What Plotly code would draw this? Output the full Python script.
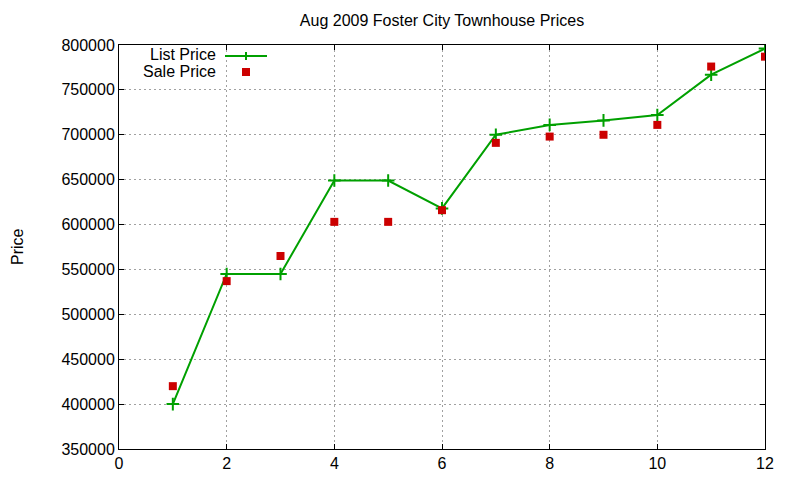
import plotly.graph_objects as go

# data
unidades = list(range(1, 13))
list_price = [400000, 545000, 545000, 649000, 649000, 618000,
              700000, 711000, 716000, 722000, 767000, 796000]
sale_price = [420000, 537000, 565000, 603000, 603000, 616000,
              691000, 698000, 700000, 711000, 776000, 787000]
x_ticks = [0, 2, 4, 6, 8, 10, 12]
y_ticks = list(range(350000, 800001, 50000))

VERDE = '#00a000'
ROJO = '#cc0000'
FUENTE = dict(family='Liberation Sans, Arial, sans-serif', size=16, color='black')

# the page body adds an 8px margin, so the figure is offset by that much
OFF = 8
# plot area as it should appear on screen (pixels)
L, R, T, B = 119, 765, 45, 449


def px(x):
    return (x - L) / (R - L)


def py(y):
    return (B - y) / (B - T)


fig = go.Figure()
fig.add_trace(go.Scatter(
    x=unidades, y=list_price, mode='lines+markers', name='List Price',
    line=dict(color=VERDE, width=2),
    marker=dict(symbol='cross-thin', size=9, line=dict(color=VERDE, width=2)),
))
fig.add_trace(go.Scatter(
    x=unidades, y=sale_price, mode='markers', name='Sale Price',
    marker=dict(symbol='square', size=8, color=ROJO),
))

eje = dict(
    showline=True, linecolor='black', linewidth=1, mirror='allticks',
    ticks='inside', ticklen=5, tickcolor='black',
    showgrid=True, gridcolor='#a0a0a0', gridwidth=1, griddash='2px,3px',
    zeroline=False, tickfont=FUENTE,
)
fig.update_xaxes(range=[0, 12], tickvals=x_ticks, **eje)
fig.update_yaxes(range=[350000, 800000], tickvals=y_ticks, tickformat='d', **eje)

# key, gnuplot style: text on the left, sample on the right
for texto, yk in [('List Price', 54), ('Sale Price', 72)]:
    fig.add_annotation(x=px(217), y=py(yk), xref='paper', yref='paper', text=texto,
                       showarrow=False, xanchor='right', yanchor='middle',
                       borderpad=0, font=FUENTE)
fig.add_shape(type='line', xref='paper', yref='paper', x0=px(225), x1=px(267),
              y0=py(56), y1=py(56), line=dict(color=VERDE, width=2))
fig.add_shape(type='line', xref='paper', yref='paper', x0=px(246), x1=px(246),
              y0=py(52), y1=py(60), line=dict(color=VERDE, width=2))
fig.add_shape(type='rect', xref='paper', yref='paper', x0=px(242), x1=px(250),
              y0=py(68), y1=py(76), line=dict(width=0), fillcolor=ROJO)

fig.add_annotation(x=0, y=0.5, xref='paper', yref='paper', xshift=-(L - 17),
                   xanchor='center', yanchor='middle', borderpad=0,
                   text='Price', textangle=-90, showarrow=False, font=FUENTE)

fig.update_layout(
    title=dict(text='Aug 2009 Foster City Townhouse Prices', x=0.5, xref='paper',
               y=1 - (20 - OFF) / 480, yref='container', xanchor='center',
               yanchor='middle', font=FUENTE),
    width=800, height=480,
    margin=dict(l=L - OFF, r=800 - R + OFF, t=T - OFF, b=480 - B + OFF),
    plot_bgcolor='white', paper_bgcolor='white',
    showlegend=False,
)

fig.write_html("out.html")
